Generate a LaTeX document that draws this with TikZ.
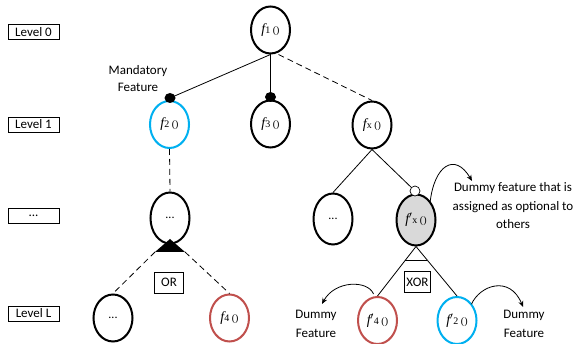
\documentclass[tikz,border=0pt]{standalone}
\usepackage{fontspec}
\setmainfont{Carlito}
\newfontfamily\fnfont{Liberation Serif}
\usetikzlibrary{shapes.geometric,arrows.meta,calc}

% function label: italic f, small index, parentheses
\newcommand{\fnlab}[2]{{\fnfont\fontsize{14}{15}\selectfont\itshape f#1}{\fnfont\fontsize{10}{11}\selectfont #2\hspace{0.25em}()}}

\begin{document}
\begin{tikzpicture}[x=1pt,y=-1pt,
  feat/.style={ellipse, draw, line width=2pt, minimum width=39pt, minimum height=47pt, inner sep=0pt, font=\fontsize{12}{13}\selectfont},
  tall/.style={feat, minimum height=51pt},
  bluering/.style={draw={rgb,255:red,0;green,176;blue,240}},
  redring/.style={draw={rgb,255:red,192;green,80;blue,77}},
  lvl/.style={draw, line width=0.7pt, minimum width=51pt, minimum height=15pt, inner sep=0pt, font=\fontsize{13}{14}\selectfont},
  opbox/.style={draw, line width=0.7pt, minimum width=29pt, minimum height=21pt, inner sep=0pt, font=\fontsize{13}{14}\selectfont},
  link/.style={line width=0.8pt},
  dlink/.style={link, dash pattern=on 6pt off 4pt},
  note/.style={align=center, font=\fontsize{13}{18.5}\selectfont},
  pointer/.style={line width=0.8pt, -{Stealth[length=6pt,width=5pt]}}
]
\useasboundingbox (0,0) rectangle (573,344);

% level labels
\node[lvl] (l0) at (33.5,32) {Level 0};
\node[lvl] (l1) at (33.5,124.5) {Level 1};
\node[lvl] (ld) at (33.5,215.5) {...};
\node[lvl] (lL) at (33.5,313.5) {Level L};

% features
\node[feat] (f1) at (270.5,30) {\fnlab{}{1}};
\node[feat,bluering] (f2) at (169.5,124.5) {\fnlab{}{2}};
\node[feat] (f3) at (270.5,124) {\fnlab{}{3}};
\node[feat] (fx) at (372,125) {\fnlab{}{x}};
\node[tall] (m) at (170,218) {...};
\node[tall] (r) at (333,219) {...};
\node[tall, fill={rgb,255:red,217;green,217;blue,217}] (fpx) at (416,220) {\fnlab{$'$}{x}};
\node[feat] (b) at (113,318) {...};
\node[feat,redring] (f4) at (229.5,318) {\fnlab{}{4}};
\node[feat,redring] (fp4) at (377.5,320.5) {\fnlab{$'$}{4}};
\node[feat,bluering] (fp2) at (457,320.5) {\fnlab{$'$}{2}};

% mandatory markers and optional marker
\coordinate (d2) at (170,98);
\coordinate (d3) at (270.5,97);
\coordinate (ox) at (415,191);

% links from f1
\draw[link] (f1.south) -- (d2);
\draw[link] (f1.south) -- (d3);
\draw[dlink] (f1.south) ++(8,0) -- (fx.north);
\fill (d2) ellipse (5.5 and 5);
\fill (d3) ellipse (5.5 and 5);

% f2 branch with OR group
\draw[dlink] (f2.south) -- (m.north);
\coordinate (ta) at (170,239);
\coordinate (tl) at (155,252);
\coordinate (tr) at (185,252);
\fill (ta) -- (tl) -- (tr) -- cycle;
\draw[dlink] (tl) -- (b.north);
\draw[dlink] (tr) -- (f4.north);
\node[opbox] (or) at (169,282.5) {OR};

% fx branch
\draw[link] (fx.south) -- (r.north);
\draw[link] (fx.south) -- (ox);
\filldraw[fill=white, line width=0.7pt] (ox) circle (5);

% XOR group under the dummy feature
\draw[link] (fpx.south) -- (fp4.north);
\draw[link] (fpx.south) -- (fp2.north);
\draw[link] ($(fpx.south)!0.28!(fp4.north)$) -- ($(fpx.south)!0.28!(fp2.north)$);
\node[opbox, minimum width=26pt] (xor) at (417.5,282) {XOR};

% notes
\node[note] (mand) at (138,78.5) {Mandatory\\[-2pt]Feature};
\node[note] (dummy) at (513,206) {Dummy feature that is\\assigned as optional to\\others};
\node[note] (dl) at (316,324) {Dummy\\Feature};
\node[note] (dr) at (524,324) {Dummy\\Feature};

% curved pointers
\coordinate (a1) at (472,181);
\coordinate (a2) at (322,304);
\coordinate (a3) at (523,307);
\draw[pointer] (fpx.north east) ++(-0.5,2) .. controls (434,165) and (455,152) .. (a1);
\draw[pointer] (fp4.north) ++(-4,-2) .. controls (368,280) and (335,280) .. (a2);
\draw[pointer] (fp2.north east) ++(0,1) .. controls (480,285) and (510,275) .. (a3);
\end{tikzpicture}
\end{document}
